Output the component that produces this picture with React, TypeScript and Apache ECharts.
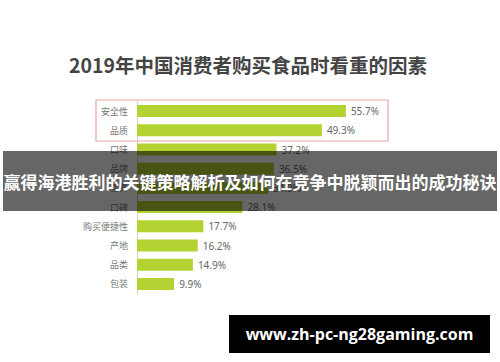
import React, { useEffect, useRef } from "react";
import * as echarts from "echarts";

const titleText = "2019年中国消费者购买食品时看重的因素";
const categories = ["安全性", "品质", "口味", "品牌", "营养", "口碑", "购买便捷性", "产地", "品类", "包装"];
const values = [55.7, 49.3, 37.2, 36.5, 34.9, 28.1, 17.7, 16.2, 14.9, 9.9];
const bannerText = "赢得海港胜利的关键策略解析及如何在竞争中脱颖而出的成功秘诀";
const siteText = "www.zh-pc-ng28gaming.com";

export default function App() {
  const ref = useRef<HTMLDivElement>(null);
  useEffect(() => {
    if (!ref.current) return;
    const chart = echarts.init(ref.current, null, { renderer: "svg" });
    chart.setOption({
      animation: false,
      backgroundColor: "#ffffff",
      title: {
        text: titleText,
        left: 64,
        top: 50,
        textStyle: {
          fontSize: 19.5,
          fontWeight: "bold",
          color: "#444444",
          fontFamily: "Noto Sans CJK SC",
        },
      },
      grid: { left: 137, right: 138, top: 101.5, bottom: 68.5, containLabel: false },
      xAxis: {
        type: "value",
        min: 0,
        max: 60,
        show: false,
      },
      yAxis: {
        type: "category",
        data: categories,
        inverse: true,
        axisLine: { show: true, lineStyle: { color: "#d0d0d0", width: 1 } },
        axisTick: { show: false },
        axisLabel: {
          color: "#777777",
          fontSize: 9,
          margin: 9,
          fontFamily: "Noto Sans CJK SC",
        },
      },
      series: [
        {
          type: "bar",
          data: values,
          barWidth: 12,
          itemStyle: { color: "#b3d332" },
          label: {
            show: true,
            position: "right",
            distance: 5,
            formatter: (p: any) => p.value.toFixed(1) + "%",
            color: "#666666",
            fontSize: 10,
            fontFamily: "Noto Sans",
          },
        },
      ],
      graphic: [
        {
          type: "rect",
          shape: { x: 96, y: 100, width: 292, height: 41 },
          style: { fill: "none", stroke: "#e9a3a6", lineWidth: 1.2 },
          z: 50,
        },
        {
          type: "rect",
          shape: { x: 3, y: 151, width: 494, height: 60 },
          style: { fill: "rgba(0,0,0,0.6)" },
          z: 100,
        },
        {
          type: "text",
          x: 250,
          y: 181,
          style: {
            text: bannerText,
            fill: "#ffffff",
            font: "bold 17px 'Noto Sans CJK SC'",
            align: "center",
            verticalAlign: "middle",
          },
          z: 101,
        },
        {
          type: "rect",
          shape: { x: 229, y: 315, width: 261, height: 38 },
          style: { fill: "#000000" },
          z: 100,
        },
        {
          type: "text",
          x: 359.5,
          y: 334,
          style: {
            text: siteText,
            fill: "#ffffff",
            font: "bold 16px 'Open Sans'",
            align: "center",
            verticalAlign: "middle",
          },
          z: 101,
        },
      ],
    });
    return () => chart.dispose();
  }, []);
  return <div ref={ref} style={{ width: 500, height: 362, position: "absolute", left: 0, top: 0 }} />;
}
